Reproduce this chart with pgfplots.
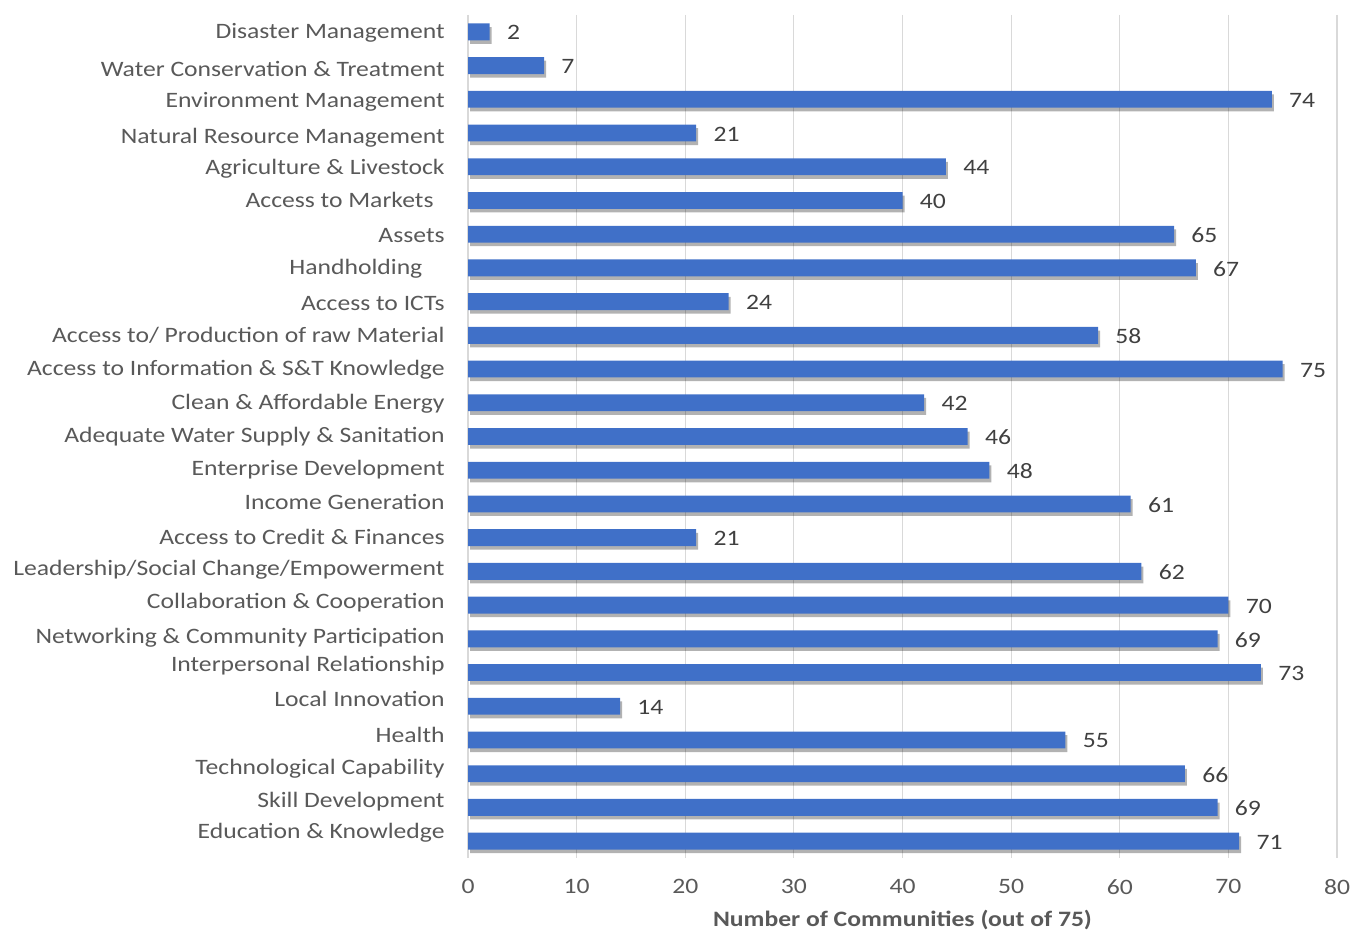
\documentclass[border=0pt]{standalone}
\usepackage{pgfplots}
\pgfplotsset{compat=1.18}
\usepackage{fontspec}
\setmainfont{Carlito}[FakeStretch=1.165]
\usetikzlibrary{shadows}
\definecolor{bar}{RGB}{64,112,200}
\definecolor{gridc}{RGB}{217,217,217}
\definecolor{txt}{RGB}{89,89,89}
\definecolor{val}{RGB}{64,64,64}
\pgfplotstableread[col sep=comma]{
y,v
0,2
1,7
2,74
3,21
4,44
5,40
6,65
7,67
8,24
9,58
10,75
11,42
12,46
13,48
14,61
15,21
16,62
17,70
18,69
19,73
20,14
21,55
22,66
23,69
24,71
}\data
\begin{document}
\begin{tikzpicture}
\useasboundingbox (0,0) rectangle (676.5pt,465pt);
\begin{axis}[
  at={(234pt,36pt)}, anchor=south west,
  width=434.5pt, height=421.5pt, scale only axis,
  xmin=0, xmax=80, ymin=-0.5, ymax=24.5, y dir=reverse,
  xtick={0,10,...,80},
  ytick={-0.03,1.03,2,3.06,4,4.91,5.97,6.94,7.97,8.94,9.94,10.97,11.94,12.91,13.88,14.91,15.88,16.85,17.91,18.73,19.7,20.79,21.79,22.76,23.67},
  yticklabels={Disaster Management,Water Conservation \& Treatment,Environment Management,Natural Resource Management,Agriculture \& Livestock,Access to Markets\hphantom{x},Assets,Handholding\hphantom{xx},Access to ICTs,Access to/ Production of raw Material,Access to Information \& S\&T Knowledge,Clean \& Affordable Energy,Adequate Water Supply \& Sanitation,Enterprise Development,Income Generation,Access to Credit \& Finances,Leadership/Social Change/Empowerment,Collaboration \& Cooperation,Networking \& Community Participation,Interpersonal Relationship,Local Innovation,Health,Technological Capability,Skill Development,Education \& Knowledge},
  major tick length=0,
  axis line style={draw=none},
  xmajorgrids, grid style={gridc, line width=0.6pt},
  /pgf/number format/assume math mode=true,
  tick label style={font=\fontsize{11}{13}\selectfont, text=txt},
  yticklabel style={inner sep=0pt, anchor=east, xshift=-11.5pt, yshift=-1.2pt},
  xticklabel style={inner sep=0pt, anchor=north, yshift=-10.5pt},
  xlabel={Number of Communities (out of 75)},
  xlabel style={font=\bfseries\fontsize{11}{13}\selectfont, text=txt, at={(axis description cs:0.5,0)}, anchor=center, yshift=-31pt},
  clip=false,
]
\addplot[xbar, bar width=0.5, bar shift=0pt, draw=none, fill=bar,
  drop shadow={shadow xshift=1pt, shadow yshift=-1.8pt, opacity=0.3, fill=black},
  nodes near coords, nodes near coords align={horizontal},
  every node near coord/.style={font=\fontsize{11}{13}\selectfont, text=val, anchor=west, inner sep=0pt, xshift=8.5pt, yshift=-0.5pt},
  point meta=x] table[x=v, y=y] {\data};
\end{axis}
\end{tikzpicture}
\end{document}
